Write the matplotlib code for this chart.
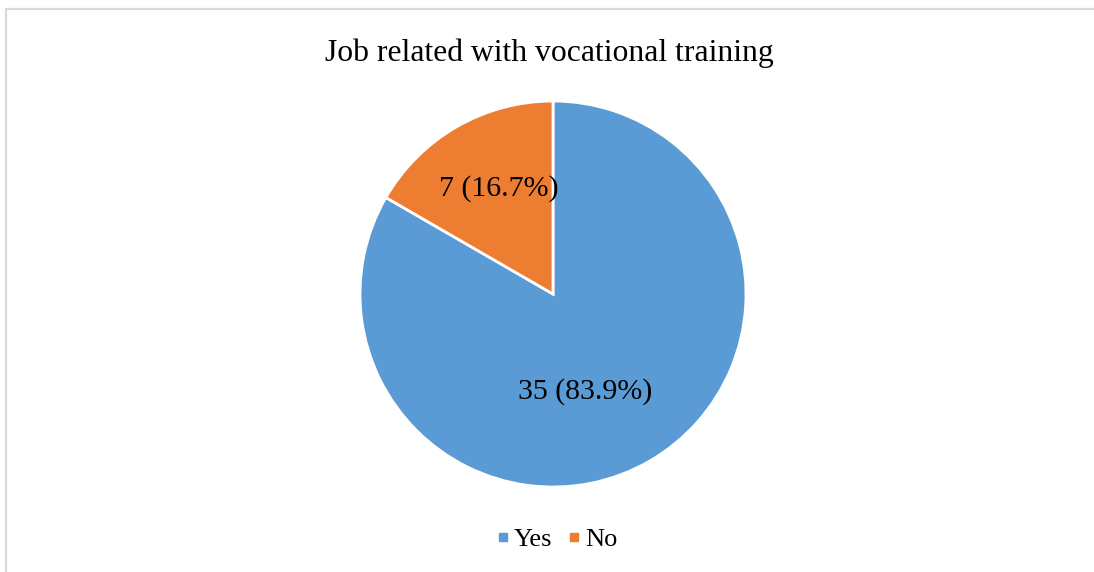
import matplotlib
matplotlib.use("Agg")
import matplotlib.pyplot as plt
from matplotlib.lines import Line2D
from matplotlib.patches import Rectangle

categories = ["Yes", "No"]
counts = [35, 7]
label_texts = ["35 (83.9%)", "7 (16.7%)"]
title = "Job related with vocational training"

colors = ["#5B9BD5", "#ED7D31"]
serif = ["Liberation Serif", "DejaVu Serif"]

W, H = 1094, 572
fig = plt.figure(figsize=(W / 100, H / 100), dpi=100)

# light chart-area frame (runs off the right and bottom edges)
fig.patches.append(Rectangle((6 / W, -0.5), 2.0, (H - 8.5) / H + 0.5,
                             transform=fig.transFigure, fill=False,
                             edgecolor="#d9d9d9", linewidth=1.6))

cx, cy, r = 553, 294, 193
ax = fig.add_axes([(cx - r) / W, (H - cy - r) / H, 2 * r / W, 2 * r / H])
wedges, _ = ax.pie(counts, colors=colors, startangle=90, counterclock=False,
                   radius=1.0,
                   wedgeprops=dict(edgecolor="white", linewidth=2.0))
ax.set_xlim(-1, 1)
ax.set_ylim(-1, 1)
ax.set_aspect("equal")
ax.axis("off")

# data label placement (baseline of each label inside its slice)
label_pos = [(0.165, -0.544), (-0.28, 0.508)]
for txt, (x, y) in zip(label_texts, label_pos):
    ax.text(x, y, txt, ha="center", va="baseline", fontsize=21.5,
            family=serif, color="black")

fig.text(549 / W, 1 - 61 / H, title, ha="center", va="baseline",
         fontsize=22.8, family=serif, color="black")

handles = [Line2D([], [], linestyle="none", marker="s", markersize=5.8,
                  markerfacecolor=c, markeredgecolor=c) for c in colors]
fig.legend(handles, categories, loc="center", bbox_to_anchor=(558.5 / W, 1 - 539 / H),
           ncol=2, frameon=False, prop={"family": serif, "size": 19},
           handlelength=0.3, handletextpad=0.27, columnspacing=0.68,
           borderpad=0.0, borderaxespad=0.0)

fig.savefig("out.png", dpi=100)
